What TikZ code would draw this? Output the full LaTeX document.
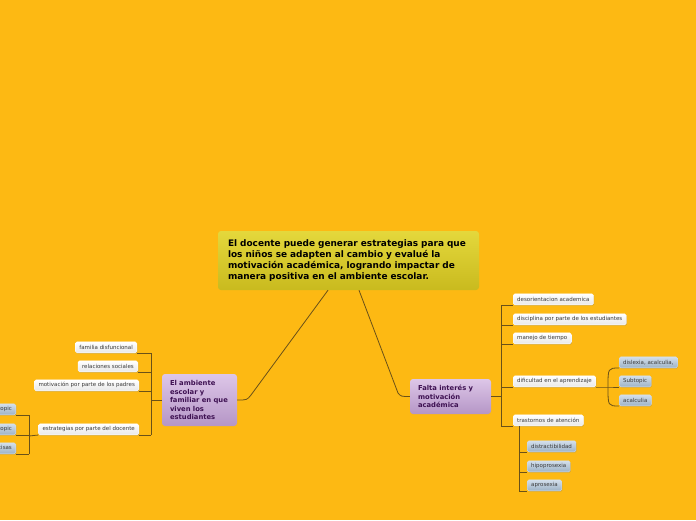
\documentclass[tikz,border=0pt]{standalone}
\usepackage{fontspec}
\setmainfont{DejaVu Sans}
\usepackage{tikz}
\usetikzlibrary{positioning,calc,shadows}
\definecolor{fondo}{RGB}{253,185,19}
\definecolor{tema}{HTML}{E4D83C}
\definecolor{temab}{HTML}{C9BA1E}
\definecolor{lila}{HTML}{DDC6E8}
\definecolor{lilab}{HTML}{B596C6}
\definecolor{lilatxt}{HTML}{3E1152}
\definecolor{azul}{HTML}{D3DFEB}
\definecolor{azulb}{HTML}{9DB2C6}
\definecolor{rama}{HTML}{6A5118}
\definecolor{gristxt}{HTML}{3A3A3A}
\tikzset{
  central/.style={rectangle, rounded corners=3pt, top color=tema, bottom color=temab, align=left,
                  font=\bfseries\fontsize{8.95}{11}\selectfont, text width=241pt, inner xsep=10pt,
                  minimum width=261pt, minimum height=59pt},
  rama1/.style={rectangle, rounded corners=3pt, top color=lila, bottom color=lilab, text=lilatxt,
                align=left, font=\bfseries\fontsize{6.8}{8.5}\selectfont, inner xsep=8pt, inner ysep=0pt},
  hoja/.style={rectangle, rounded corners=1.5pt, top color=white, bottom color=gray!18, draw=white,
               line width=0.3pt, text=gristxt, font=\fontsize{5.5}{6}\selectfont, inner xsep=4pt,
               inner ysep=0pt, minimum height=11pt,
               drop shadow={shadow xshift=0.6pt, shadow yshift=-0.8pt, opacity=0.35}},
  hojaz/.style={hoja, top color=azul, bottom color=azulb, draw=azul},
  enlace/.style={draw=rama, line width=0.8pt},
}

\begin{document}
\begin{tikzpicture}[x=1pt,y=-1pt]
  \fill[fondo] (0,0) rectangle (696,520);
  \useasboundingbox (0,0) rectangle (696,520);
  \clip (0,0) rectangle (696,520);
  % tema central y ramas principales
  \node[central] (top) at (348.5,260.5){El docente puede generar estrategias para que\\ los niños se adapten al cambio y evalué la\\ motivación académica, logrando impactar de\\ manera positiva en el ambiente escolar.};
  \node[rama1, text width=59pt, minimum width=75pt, minimum height=52pt] (amb) at (199.5,400){El ambiente\\ escolar y\\ familiar en que\\ viven los\\ estudiantes};
  \node[rama1, text width=65pt, minimum width=81pt, minimum height=35pt] (fal) at (450.5,396.5){Falta interés y\\ motivación\\ académica};
  \coordinate (ki) at (251,395); \coordinate (kd) at (398,393);
  \draw[enlace] ([xshift=-20.5pt]top.south) -- (ki) .. controls (247,400) .. (amb.east);
  \draw[enlace] ([xshift=10.5pt]top.south) -- (kd) .. controls (401,396.5) .. (fal.west);
  % lado izquierdo
  \node[hoja, anchor=south east] (fam) at (137,353){familia disfuncional};
  \node[hoja, anchor=south east] (rel) at (138,372){relaciones sociales};
  \node[hoja, anchor=south east] (mot) at (139,391){motivación por parte de los padres};
  \node[hoja, anchor=south east] (est) at (139,435){estrategias por parte del docente};
  \coordinate (ti) at (151,400);
  \draw[enlace] (amb.west) -- (ti);
  \draw[enlace] (fam.south east) -- (fam.south east -| ti); \draw[enlace] (rel.south east) -- (rel.south east -| ti);
  \draw[enlace] (mot.south east) -- (mot.south east -| ti); \draw[enlace] (est.south east) -- (est.south east -| ti);
  \draw[enlace] (fam.south east -| ti) -- (est.south east -| ti);
  \node[hojaz, anchor=south east] (sa) at (16,415){Subtopic};
  \node[hojaz, anchor=south east] (sb) at (16,435){Subtopic};
  \node[hojaz, anchor=south east] (sc) at (16,454){precisas};
  \coordinate (tt) at (29,436);
  \draw[enlace] (est.south west) -- (tt);
  \draw[enlace] (sa.south east) -- (sa.south east -| tt); \draw[enlace] (sb.south east) -- (sb.south east -| tt);
  \draw[enlace] (sc.south east) -- (sc.south east -| tt); \draw[enlace] (sa.south east -| tt) -- (sc.south east -| tt);
  % lado derecho
  \node[hoja, anchor=south west] (des) at (513,305){desorientacion academica};
  \node[hoja, anchor=south west] (dis) at (513,325){disciplina por parte de los estudiantes};
  \node[hoja, anchor=south west] (man) at (513,344){manejo de tiempo};
  \node[hoja, anchor=south west] (dif) at (513,387){dificultad en el aprendizaje};
  \node[hoja, anchor=south west] (tra) at (513,426){trastornos de atención};
  \coordinate (td) at (501,396.5);
  \draw[enlace] (fal.east) -- (td);
  \draw[enlace] (des.south west) -- (des.south west -| td); \draw[enlace] (dis.south west) -- (dis.south west -| td);
  \draw[enlace] (man.south west) -- (man.south west -| td); \draw[enlace] (dif.south west) -- (dif.south west -| td);
  \draw[enlace] (tra.south west) -- (tra.south west -| td); \draw[enlace] (des.south west -| td) -- (tra.south west -| td);
  \node[hojaz, anchor=south west] (dsl) at (619,368){dislexia, acalculia,};
  \node[hojaz, anchor=south west] (sub) at (619,387){Subtopic};
  \node[hojaz, anchor=south west] (aca) at (619,406){acalculia};
  \coordinate (ta) at (608,387);
  \draw[enlace] (dif.south east) -- (ta) -- (sub.south west);
  \draw[enlace] (dsl.south west) .. controls (ta |- dsl.south west) .. (ta) .. controls (ta |- aca.south west) .. (aca.south west);
  \node[hojaz, anchor=south west] (dst) at (527,452){distractibilidad};
  \node[hojaz, anchor=south west] (hip) at (527,472){hipoprosexia};
  \node[hojaz, anchor=south west] (apr) at (527,491){aprosexia};
  \coordinate (tb) at (519,427);
  \draw[enlace] (tra.south west -| tb) -- (apr.south west -| tb);
  \draw[enlace] (dst.south west -| tb) -- (dst.south west); \draw[enlace] (hip.south west -| tb) -- (hip.south west);
  \draw[enlace] (apr.south west -| tb) -- (apr.south west);
\end{tikzpicture}
\end{document}
